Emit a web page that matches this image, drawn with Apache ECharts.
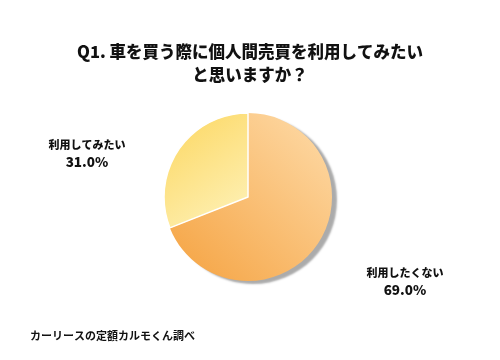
<!DOCTYPE html>
<html><head><meta charset="utf-8">
<script src="https://cdn.jsdelivr.net/npm/echarts@6/dist/echarts.min.js"></script>
<style>html,body{margin:0;padding:0;background:#fff}#c{width:500px;height:360px}</style>
</head><body><div id="c"></div>
<script>
const titleText = 'Q1. 車を買う際に個人間売買を利用してみたい\nと思いますか？';
const sourceText = 'カーリースの定額カルモくん調べ';
const categories = ['利用したくない', '利用してみたい'];
const values = [69.0, 31.0];
const colorsGrad = [
  [{o:0,c:'#f5a240'},{o:1,c:'#fedcaa'}],
  [{o:0,c:'#fcd65e'},{o:1,c:'#fef3bd'}]
];
const gradDir = [[0,1,1,0],[0,0,1,1]];
const labelPos = [[405, 281], [87, 153]];
const FONT = '"Noto Sans CJK JP", "Noto Sans", sans-serif';

const chart = echarts.init(document.getElementById('c'), null, {renderer:'canvas'});
chart.setOption({
  backgroundColor: '#fff',
  animation: false,
  title: {
    text: titleText, left: 'center', top: 35,
    textStyle: {fontFamily: FONT, fontSize: 16.5, fontWeight: 900, color: '#111', lineHeight: 23}
  },
  graphic: [{
    type: 'text', left: 30, top: 330,
    style: {text: sourceText, font: 'bold 11px ' + FONT, fill: '#111'}
  }],
  series: [{
    type: 'pie',
    center: [248, 197],
    radius: [0, 84],
    startAngle: 90,
    clockwise: true,
    label: {
      show: true, position: 'outside',
      fontFamily: FONT, fontSize: 11, fontWeight: 'bold', color: '#111',
      lineHeight: 16, align: 'center',
      formatter: p => '{n|' + p.name + '}\n{v|' + p.value.toFixed(1) + '%}',
      rich: {
        n: {fontFamily: FONT, fontSize: 11, fontWeight: 900, color: '#111', lineHeight: 17},
        v: {fontFamily: FONT, fontSize: 13.5, fontWeight: 900, color: '#111', lineHeight: 17}
      }
    },
    labelLine: {show: false},
    labelLayout: p => ({x: labelPos[p.dataIndex][0], y: labelPos[p.dataIndex][1], align: 'center', verticalAlign: 'middle'}),
    data: categories.map((n, i) => ({
      name: n, value: values[i],
      itemStyle: Object.assign({
        color: new echarts.graphic.LinearGradient(gradDir[i][0], gradDir[i][1], gradDir[i][2], gradDir[i][3],
          colorsGrad[i].map(s => ({offset: s.o, color: s.c})))
      }, i === 0
        ? {borderWidth: 0, shadowColor: 'rgba(0,0,0,0.33)', shadowBlur: 2, shadowOffsetX: 5, shadowOffsetY: 3}
        : {borderColor: '#fff', borderWidth: 1.5})
    }))
  }]
});
</script></body></html>
